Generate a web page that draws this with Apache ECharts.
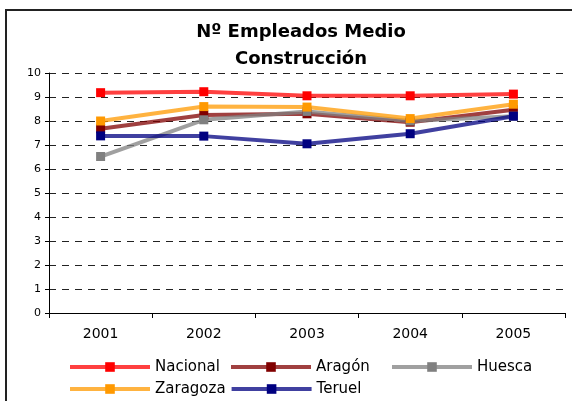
<!DOCTYPE html>
<html>
<head>
<meta charset="utf-8">
<title>Nº Empleados Medio Construcción</title>
<script src="https://cdn.jsdelivr.net/npm/echarts@6/dist/echarts.min.js"></script>
<style>
  html, body { margin: 0; padding: 0; background: #fff; }
</style>
</head>
<body>
<div id="main" style="width:572px;height:401px;"></div>
<script type="text/javascript">
// datos
var years = ['2001', '2002', '2003', '2004', '2005'];
var nacional = [9.18, 9.22, 9.05, 9.05, 9.12];
var aragon   = [7.68, 8.25, 8.3, 7.95, 8.47];
var huesca   = [6.52, 8.05, 8.4, 8.0, 8.2];
var zaragoza = [8.0, 8.6, 8.58, 8.1, 8.7];
var teruel   = [7.38, 7.37, 7.05, 7.47, 8.2];
var yTicks   = [0, 10, 1];

var font = 'DejaVu Sans, Arial, sans-serif';
var myChart = echarts.init(document.getElementById('main'));

function serie(name, data, color) {
    return {
        name: name,
        type: 'line',
        data: data,
        symbol: 'rect',
        symbolSize: 9,
        color: color,
        lineStyle: { width: 4, color: color, opacity: 0.75 },
        itemStyle: { color: color },
        animation: false
    };
}

var option = {
    backgroundColor: '#fff',
    title: {
        text: 'Nº Empleados Medio\nConstrucción',
        left: 296,
        textAlign: 'center',
        top: 14,
        textStyle: { fontFamily: font, fontSize: 18, fontWeight: 'bold', color: '#000', lineHeight: 27 }
    },
    graphic: [{
        type: 'rect',
        shape: { x: 6, y: 10, width: 620, height: 440 },
        style: { fill: 'none', stroke: '#222', lineWidth: 2 },
        silent: true
    }],
    grid: { left: 49, right: 7, top: 73, bottom: 88 },
    legend: {
        left: 68,
        top: 358,
        padding: 0,
        width: 480,
        itemWidth: 80,
        itemHeight: 12,
        itemGap: 4,
        lineStyle: { width: 4 },
        textStyle: { fontFamily: font, fontSize: 15, color: '#000', width: 70, lineHeight: 18 },
        data: ['Nacional', 'Aragón', 'Huesca', 'Zaragoza', 'Teruel']
    },
    xAxis: {
        type: 'category',
        data: years,
        boundaryGap: true,
        axisLine: { lineStyle: { color: '#000', width: 1 } },
        axisTick: { show: true, length: 5, lineStyle: { color: '#000' } },
        axisLabel: { fontFamily: font, fontSize: 14, color: '#000', margin: 14 },
        splitLine: { show: false }
    },
    yAxis: {
        type: 'value',
        min: yTicks[0],
        max: yTicks[1],
        interval: yTicks[2],
        axisLine: { show: true, lineStyle: { color: '#000', width: 1 } },
        axisTick: { show: true, length: 4, lineStyle: { color: '#000' } },
        axisLabel: { fontFamily: font, fontSize: 11, color: '#000', margin: 8 },
        splitLine: { show: true, lineStyle: { color: '#222', width: 1, type: [7, 6] } }
    },
    series: [
        serie('Nacional', nacional, '#FF0000'),
        serie('Aragón', aragon, '#800000'),
        serie('Huesca', huesca, '#808080'),
        serie('Zaragoza', zaragoza, '#FF9900'),
        serie('Teruel', teruel, '#000080')
    ]
};

myChart.setOption(option);
</script>
</body>
</html>
